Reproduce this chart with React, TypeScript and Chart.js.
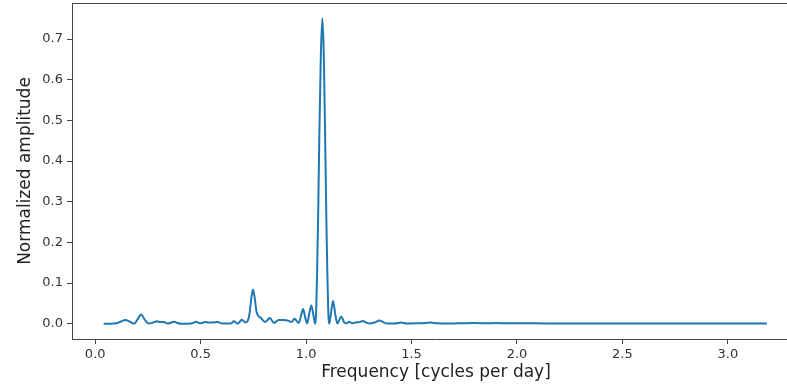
import React, { useEffect, useRef } from "react";
import { Chart, registerables } from "chart.js";

Chart.register(...registerables);

const frequency = [
  0.04, 0.07, 0.10, 0.12, 0.142, 0.165, 0.185, 0.20, 0.218, 0.235, 0.253, 0.275, 0.293, 0.31, 0.325,
  0.345, 0.36, 0.375, 0.39, 0.41, 0.44, 0.46, 0.478, 0.50, 0.52, 0.54, 0.56, 0.58, 0.605, 0.625,
  0.645, 0.657, 0.676, 0.696, 0.712, 0.722, 0.732, 0.740, 0.748, 0.756, 0.764, 0.772, 0.785, 0.805,
  0.828, 0.848, 0.870, 0.894, 0.918, 0.930, 0.945, 0.965, 0.976, 0.986, 0.996, 1.005, 1.015, 1.025,
  1.035, 1.043, 1.047, 1.052, 1.057, 1.063, 1.070, 1.077, 1.084, 1.090, 1.096, 1.101, 1.106, 1.110,
  1.119, 1.128, 1.138, 1.148, 1.158, 1.167, 1.180, 1.192, 1.205, 1.218, 1.234, 1.252, 1.269, 1.285,
  1.300, 1.325, 1.348, 1.365, 1.385, 1.42, 1.452, 1.475, 1.52, 1.566, 1.59, 1.62, 1.66, 1.72, 1.80,
  1.86, 1.90, 1.95, 2.00, 2.03, 2.08, 2.2, 2.4, 2.6, 2.8, 3.0, 3.185,
];

const amplitude = [
  0, 0, 0.001, 0.005, 0.009, 0.005, 0.0005, 0.01, 0.023, 0.01, 0.0005, 0.003, 0.006, 0.004, 0.004,
  0.0005, 0.003, 0.005, 0.002, 0.0, 0.0, 0.001, 0.005, 0.001, 0.004, 0.003, 0.003, 0.004, 0.0005, 0.0005,
  0.001, 0.006, 0.0005, 0.010, 0.003, 0.006, 0.025, 0.062, 0.084, 0.065, 0.032, 0.02, 0.015, 0.004,
  0.014, 0.002, 0.009, 0.009, 0.007, 0.004, 0.012, 0.002, 0.02, 0.036, 0.015, 0.001, 0.025, 0.045,
  0.02, 0.0, 0.02, 0.12, 0.26, 0.47, 0.66, 0.751, 0.66, 0.47, 0.26, 0.12, 0.02, 0.0,
  0.03, 0.056, 0.025, 0.0005, 0.01, 0.018, 0.004, 0.001, 0.005, 0.001, 0.003, 0.004, 0.007, 0.003,
  0.0005, 0.003, 0.008, 0.004, 0.0005, 0.0005, 0.003, 0.0005, 0.001, 0.002, 0.003, 0.001, 0.0005, 0.001, 0.002,
  0.001, 0.002, 0.001, 0.0015, 0.001, 0.001, 0.0005, 0.0005, 0.0005, 0.0005, 0.0005, 0.0005,
];

const xTitle = "Frequency [cycles per day]";
const yTitle = "Normalized amplitude";

const FONT = "'DejaVu Sans', sans-serif";

const topBorder = {
  id: "topBorder",
  afterDraw(chart: any) {
    const { ctx, chartArea } = chart;
    ctx.save();
    ctx.strokeStyle = "#444";
    ctx.lineWidth = 1;
    ctx.beginPath();
    ctx.moveTo(chartArea.left, chartArea.top + 0.5);
    ctx.lineTo(chartArea.right, chartArea.top + 0.5);
    ctx.stroke();
    ctx.restore();
  },
};

export default function App() {
  const ref = useRef<HTMLCanvasElement>(null);
  useEffect(() => {
    document.body.style.margin = "0";
    const points = frequency.map((f, i) => ({ x: f, y: amplitude[i] }));
    const chart = new Chart(ref.current!, {
      type: "line",
      data: {
        datasets: [
          {
            data: points,
            borderColor: "#1f77b4",
            borderWidth: 2,
            pointRadius: 0,
            cubicInterpolationMode: "monotone",
            fill: false,
          },
        ],
      },
      options: {
        animation: false,
        responsive: false,
        devicePixelRatio: 1,
        layout: { padding: { top: 3, left: 0, right: 0, bottom: 0 } },
        plugins: { legend: { display: false }, tooltip: { enabled: false } },
        scales: {
          x: {
            type: "linear",
            min: -0.11,
            max: 3.342,
            afterFit: (s: any) => {
              s.height = 49;
              s.paddingLeft = 0;
              s.paddingRight = 0;
            },
            ticks: {
              stepSize: 0.5,
              includeBounds: false,
              autoSkip: false,
              maxRotation: 0,
              padding: 3,
              color: "#333",
              font: { family: FONT, size: 13 },
              callback: (v: any) => Number(v).toFixed(1),
            },
            grid: {
              drawOnChartArea: false,
              drawTicks: true,
              tickLength: 5,
              tickColor: "#444",
            },
            border: { display: true, color: "#444", width: 1 },
            title: {
              display: true,
              text: xTitle,
              color: "#222",
              font: { family: FONT, size: 17 },
              padding: { top: 0, bottom: 5 },
            },
          },
          y: {
            type: "linear",
            min: -0.0375,
            max: 0.7886,
            afterFit: (s: any) => {
              s.width = 72;
              s.paddingTop = 0;
              s.paddingBottom = 0;
            },
            ticks: {
              stepSize: 0.1,
              includeBounds: false,
              autoSkip: false,
              padding: 4,
              color: "#333",
              font: { family: FONT, size: 13 },
              callback: (v: any) => Number(v).toFixed(1),
            },
            grid: {
              drawOnChartArea: false,
              drawTicks: true,
              tickLength: 5,
              tickColor: "#444",
            },
            border: { display: true, color: "#444", width: 1 },
            title: {
              display: true,
              text: yTitle,
              color: "#222",
              font: { family: FONT, size: 17 },
              padding: { top: 15, bottom: 0 },
            },
          },
        },
      },
      plugins: [topBorder],
    });
    return () => chart.destroy();
  }, []);
  return (
    <div style={{ position: "absolute", left: 0, top: 0, width: 787, height: 388, overflow: "hidden", background: "#fff" }}>
      <canvas ref={ref} width={800} height={388} style={{ display: "block", width: 800, height: 388 }} />
    </div>
  );
}
